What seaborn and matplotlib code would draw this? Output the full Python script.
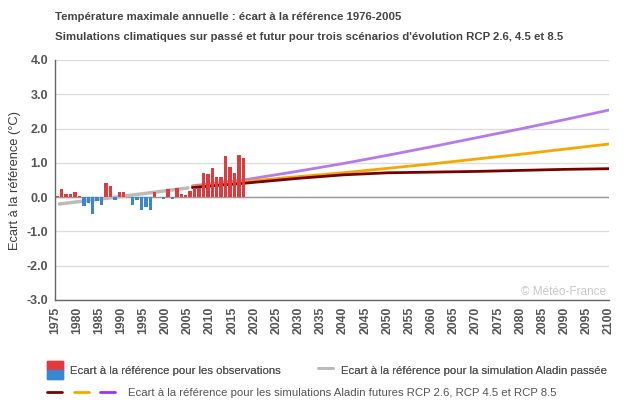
import numpy as np
import pandas as pd
import matplotlib
matplotlib.use("Agg")
import matplotlib.pyplot as plt
import seaborn as sns
from matplotlib.legend_handler import HandlerBase, HandlerTuple
from matplotlib.lines import Line2D
from matplotlib.patches import Rectangle

# données
annees_obs = list(range(1976, 2019))
ecart_obs = [0.04, 0.25, 0.10, 0.10, 0.16, 0.04, -0.27, -0.18, -0.48, -0.11,
             -0.22, 0.42, 0.33, -0.07, 0.16, 0.14, 0.0, -0.22, -0.08, -0.37,
             -0.30, -0.37, 0.16, 0.0, -0.04, 0.25, -0.04, 0.27, 0.10, 0.07,
             0.19, 0.27, 0.27, 0.70, 0.67, 0.86, 0.60, 0.60, 1.19, 0.89,
             0.70, 1.22, 1.13]

annees_passe = [1976, 1990, 2005]
aladin_passe = [-0.20, 0.02, 0.27]

annees_futur = [2006, 2018, 2030, 2040, 2050, 2060, 2070, 2080, 2090, 2100]
rcp26 = [0.28, 0.41, 0.55, 0.65, 0.71, 0.73, 0.75, 0.78, 0.81, 0.83]
rcp45 = [0.30, 0.46, 0.60, 0.71, 0.84, 0.97, 1.11, 1.25, 1.40, 1.55]
rcp85 = [0.33, 0.51, 0.76, 0.98, 1.22, 1.47, 1.73, 1.99, 2.26, 2.54]

ROUGE = "#e0393e"
BLEU = "#3a87d1"
GRIS = "#bbbbbb"
BRUN = "#7a0000"
ORANGE = "#f5a800"
VIOLET = "#b57bee"
TEXTE = "#555555"

sns.set_style("white")
plt.rcParams["font.family"] = ["Liberation Sans", "DejaVu Sans"]

df_obs = pd.DataFrame({"annee": annees_obs, "ecart": ecart_obs})
df_obs["pos"] = df_obs["annee"] - 0.5
df_pos = df_obs[df_obs["ecart"] >= 0]
df_neg = df_obs[df_obs["ecart"] < 0]

df_passe = pd.DataFrame({"annee": annees_passe, "ecart": aladin_passe})
df_futur = pd.DataFrame({"annee": annees_futur, "RCP 2.6": rcp26,
                         "RCP 4.5": rcp45, "RCP 8.5": rcp85})
df_futur = df_futur.melt(id_vars="annee", var_name="scenario", value_name="ecart")

fig = plt.figure(figsize=(6.3, 4.05), dpi=100)
ax = fig.add_axes([55 / 630, 1 - 300 / 405, 554 / 630, 240 / 405])

# grille
for v in range(-3, 5):
    ax.axhline(v, color="#dddddd", lw=1, zorder=0)
ax.axhline(0, color="#999999", lw=1, zorder=1)

# simulation passée + futures
n0 = len(ax.lines)
sns.lineplot(data=df_passe, x="annee", y="ecart", color=GRIS, lw=2.5, ax=ax,
             legend=False)
sns.lineplot(data=df_futur, x="annee", y="ecart", hue="scenario",
             palette={"RCP 2.6": BRUN, "RCP 4.5": ORANGE, "RCP 8.5": VIOLET},
             hue_order=["RCP 8.5", "RCP 4.5", "RCP 2.6"],
             lw=2, ax=ax, legend=False)
courbes = ax.lines[n0:]

# observations : rouge au-dessus, bleu en dessous
for d, c in [(df_pos, ROUGE), (df_neg, BLEU)]:
    sns.barplot(data=d, x="pos", y="ecart", color=c, saturation=1,
                native_scale=True, width=0.78, linewidth=0, edgecolor="none",
                errorbar=None, ax=ax)

# barres devant les courbes
for l in courbes:
    l.set_zorder(1.5)
for p in ax.patches:
    p.set_zorder(3)

ax.set_xlim(1975, 2100)
ax.set_ylim(-3, 4)
ax.set_xticks(range(1975, 2101, 5))
ax.set_xticklabels([str(a) for a in range(1975, 2101, 5)], rotation=90,
                   fontsize=8.8, fontweight="bold", color=TEXTE)
ax.set_yticks(range(-3, 5))
ax.set_yticklabels([f"{v:.1f}" for v in range(-3, 5)], fontsize=9,
                   fontweight="bold", color=TEXTE)
ax.tick_params(axis="both", length=3, width=1, color="#666666", pad=2)
ax.tick_params(axis="x", length=0, pad=5)
ax.set_xlabel("")
ax.set_ylabel("Ecart à la référence (°C)", fontsize=9.3, color="#3c3c3c",
              labelpad=4)
for s in ["top", "right"]:
    ax.spines[s].set_visible(False)
for s in ["left", "bottom"]:
    ax.spines[s].set_color("#666666")
    ax.spines[s].set_linewidth(1)

ax.text(0.995, 0.035, "© Météo-France", transform=ax.transAxes, ha="right",
        va="center", fontsize=8.5, color="#c8c8c8")

# titres
fig.text(55 / 630, 1 - 17 / 405, "Température maximale annuelle : écart à la référence 1976-2005",
         fontsize=8.2, fontweight="bold", color="#444444", va="center")
fig.text(55 / 630, 1 - 37 / 405,
         "Simulations climatiques sur passé et futur pour trois scénarios d'évolution RCP 2.6, 4.5 et 8.5",
         fontsize=8.2, fontweight="bold", color="#444444", va="center")


# légende
class HandlerDouble(HandlerBase):
    def create_artists(self, legend, orig_handle, xdescent, ydescent, width,
                       height, fontsize, trans):
        haut = Rectangle((-xdescent, -ydescent + height / 2), width, height / 2,
                         color=ROUGE, transform=trans)
        bas = Rectangle((-xdescent, -ydescent), width, height / 2,
                        color=BLEU, transform=trans)
        return [haut, bas]


h_obs = Rectangle((0, 0), 1, 1)
h_passe = Line2D([], [], color=GRIS, lw=2)
leg1 = fig.legend([h_obs, h_passe],
                  ["Ecart à la référence pour les observations",
                   "Ecart à la référence pour la simulation Aladin passée"],
                  handler_map={Rectangle: HandlerDouble()},
                  loc="center left", bbox_to_anchor=(47 / 630, 1 - 370 / 405),
                  ncol=2, frameon=False, fontsize=8.2, labelcolor=TEXTE,
                  handlelength=1.4, handleheight=1.95, columnspacing=3.2,
                  handletextpad=0.65, borderaxespad=0, borderpad=0)
h_futur = (Line2D([], [], color=BRUN, lw=2), Line2D([], [], color=ORANGE, lw=2),
           Line2D([], [], color="#9933ff", lw=2))
leg2 = fig.legend([h_futur],
                  ["Ecart à la référence pour les simulations Aladin futures RCP 2.6, RCP 4.5 et RCP 8.5"],
                  handler_map={tuple: HandlerTuple(ndivide=3, pad=1.0)},
                  loc="center left", bbox_to_anchor=(47 / 630, 1 - 393 / 405),
                  frameon=False, fontsize=8.2, labelcolor=TEXTE,
                  handlelength=6.0, handletextpad=1.1, borderaxespad=0,
                  borderpad=0)
fig.add_artist(leg1)

fig.savefig("out.png", dpi=100)
